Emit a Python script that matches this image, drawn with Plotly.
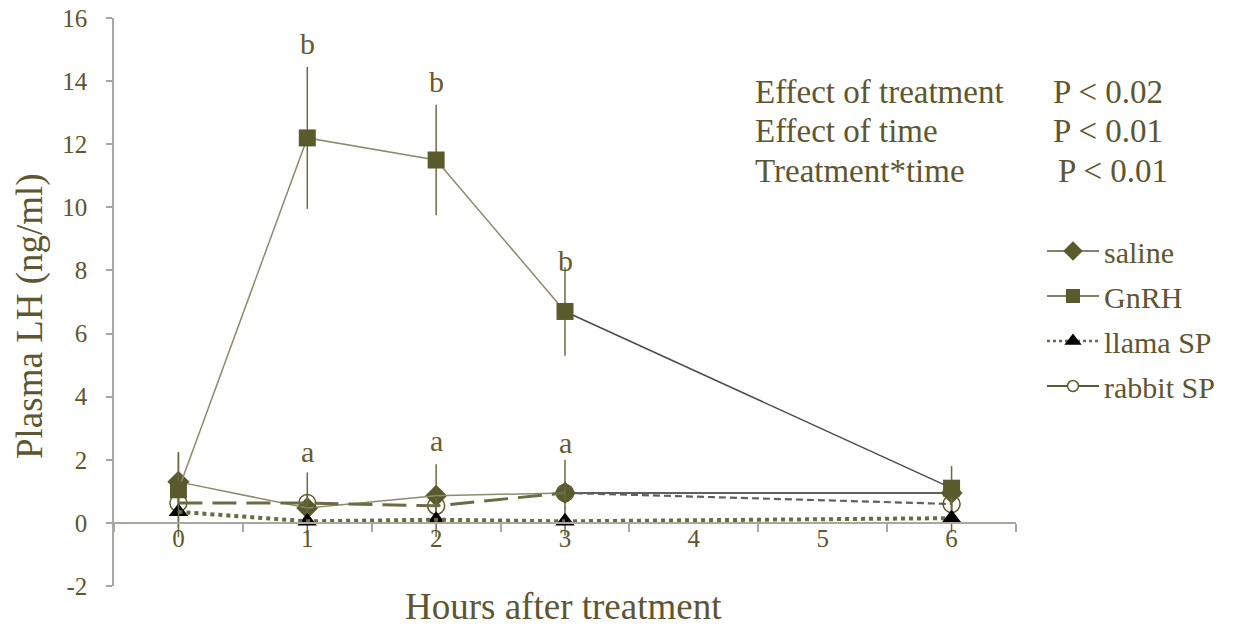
import plotly.graph_objects as go

hours = [0, 1, 2, 3, 6]
x_tick_vals = [0, 1, 2, 3, 4, 5, 6]
x_tick_text = ["0", "1", "2", "3", "4", "5", "6"]
y_tick_vals = [-2, 0, 2, 4, 6, 8, 10, 12, 14, 16]
y_tick_text = ["-2", "0", "2", "4", "6", "8", "10", "12", "14", "16"]

saline = [1.3, 0.47, 0.86, 0.95, 0.95]
saline_err_up = [0.9, 1.13, 1.0, 1.05, 0.0]
saline_err_dn = [0.9, 0.5, 0.5, 0.5, 0.0]

gnrh = [1.05, 12.2, 11.5, 6.7, 1.1]
gnrh_err = [1.2, 2.25, 1.75, 1.4, 0.7]

llama = [0.35, 0.05, 0.1, 0.05, 0.15]
llama_err = [0.8, 0.45, 0.55, 0.45, 0.45]

rabbit = [0.63, 0.63, 0.54, 0.95, 0.6]
rabbit_err = [0.3, 0.3, 0.3, 0.3, 0.3]

letters = ["b", "b", "b", "a", "a", "a"]
letter_x = [1, 2, 3, 1, 2, 3]
letter_y = [15.2, 14.0, 8.3, 2.25, 2.6, 2.55]

stats_labels = ["Effect of treatment", "Effect of time", "Treatment*time"]
stats_p = ["P < 0.02", "P < 0.01", "P < 0.01"]

FONT = "'Liberation Serif', 'Times New Roman', 'DejaVu Serif', serif"
TXT = "#5d5630"
OLIVE = "#5a5a2d"
AXIS = "#a8a8a0"

fig = go.Figure()

# segment 3 -> 6 lines (different styling, as in the reference)
fig.add_trace(go.Scatter(x=hours[3:], y=gnrh[3:], mode="lines",
                         line=dict(color="#4a4a45", width=1.5),
                         showlegend=False, hoverinfo="skip"))
fig.add_trace(go.Scatter(x=hours[3:], y=saline[3:], mode="lines",
                         line=dict(color="#2a2a25", width=1.5),
                         showlegend=False, hoverinfo="skip"))
fig.add_trace(go.Scatter(x=hours[3:], y=rabbit[3:], mode="lines",
                         line=dict(color="#606060", width=2.2, dash="7px,4px"),
                         showlegend=False, hoverinfo="skip"))
fig.add_trace(go.Scatter(x=hours[3:], y=llama[3:], mode="lines",
                         line=dict(color="#6b6b40", width=4, dash="dot"),
                         showlegend=False, hoverinfo="skip"))

fig.add_trace(go.Scatter(
    x=hours, y=saline, name="saline", mode="markers",
    marker=dict(symbol="diamond", size=17, color=OLIVE),
    error_y=dict(type="data", array=saline_err_up, arrayminus=saline_err_dn,
                 symmetric=False, color="#6b6b40", thickness=1.5, width=0),
    showlegend=False))
fig.add_trace(go.Scatter(x=hours[:4], y=saline[:4], mode="lines",
                         line=dict(color="#8c8c6c", width=1.5),
                         showlegend=False, hoverinfo="skip"))

fig.add_trace(go.Scatter(
    x=hours, y=rabbit, mode="markers",
    marker=dict(symbol="circle-open", size=17, color=OLIVE, line=dict(width=1.5)),
    error_y=dict(type="data", array=rabbit_err, color="#6b6b40", thickness=1.5, width=0),
    showlegend=False))
fig.add_trace(go.Scatter(x=hours[:4], y=rabbit[:4], mode="lines",
                         line=dict(color="#6b6b45", width=3, dash="24px,10px"),
                         showlegend=False, hoverinfo="skip"))

fig.add_trace(go.Scatter(
    x=hours, y=llama, mode="markers",
    marker=dict(symbol="triangle-up", size=17, color="black"),
    error_y=dict(type="data", array=llama_err, color="#6b6b40", thickness=1.5, width=0),
    showlegend=False))
fig.add_trace(go.Scatter(x=hours[:4], y=llama[:4], mode="lines",
                         line=dict(color="#6b6b40", width=4, dash="dot"),
                         showlegend=False, hoverinfo="skip"))

fig.add_trace(go.Scatter(x=hours[:4], y=gnrh[:4], mode="lines",
                         line=dict(color="#8c8c6c", width=1.5),
                         showlegend=False, hoverinfo="skip"))
fig.add_trace(go.Scatter(
    x=hours, y=gnrh, mode="markers",
    marker=dict(symbol="square", size=17, color=OLIVE),
    error_y=dict(type="data", array=gnrh_err, color="#6b6b40", thickness=1.5, width=0),
    showlegend=False))

legend_specs = [
    ("saline", dict(symbol="diamond", size=15, color=OLIVE), dict(color="#5a5a35", width=1.5)),
    ("GnRH", dict(symbol="square", size=14, color=OLIVE), dict(color="#5a5a35", width=1.5)),
    ("llama SP", dict(symbol="triangle-up", size=15, color="black"), dict(color="#6b6b40", width=2.5, dash="dot")),
    ("rabbit SP", dict(symbol="circle", size=11, color="white", line=dict(color=OLIVE, width=1.5)), dict(color="#5a5a35", width=2)),
]
for i, (nm, mk, ln) in enumerate(legend_specs):
    fig.add_trace(go.Scatter(x=[None], y=[None], name=nm, mode="lines+markers",
                             marker=mk, line=ln, legendgroup=f"g{i}", showlegend=True))

annotations = []
for t, xv, yv in zip(letters, letter_x, letter_y):
    annotations.append(dict(x=xv, y=yv, xref="x", yref="y", text=t, showarrow=False,
                            font=dict(family=FONT, size=30, color="#6a5a2c")))

L, R, T, B = 114, 1016, 18, 586
def px_x(p):
    return (p - L) / (R - L)
def px_y(p):
    return (B - p) / (B - T)

stat_y = [92, 131, 171]
p_x = [1051, 1051, 1056]
for lab, pv, yy, xx in zip(stats_labels, stats_p, stat_y, p_x):
    annotations.append(dict(x=px_x(753), y=px_y(yy), xref="paper", yref="paper", text=lab,
                            xanchor="left", yanchor="middle", showarrow=False,
                            font=dict(family=FONT, size=33, color=TXT)))
    annotations.append(dict(x=px_x(xx), y=px_y(yy), xref="paper", yref="paper", text=pv,
                            xanchor="left", yanchor="middle", showarrow=False,
                            font=dict(family=FONT, size=33, color=TXT)))

annotations.append(dict(x=px_x(563), y=px_y(606), xref="paper", yref="paper",
                        text="Hours after treatment", showarrow=False,
                        xanchor="center", yanchor="middle",
                        font=dict(family=FONT, size=37, color=TXT)))
annotations.append(dict(x=px_x(30), y=px_y(316), xref="paper", yref="paper",
                        text="Plasma LH (ng/ml)", showarrow=False, textangle=-90,
                        xanchor="center", yanchor="middle",
                        font=dict(family=FONT, size=37, color=TXT)))

fig.update_layout(
    width=1233, height=630,
    margin=dict(l=L, r=1233 - R, t=T, b=630 - B, autoexpand=False),
    paper_bgcolor="white", plot_bgcolor="white",
    font=dict(family=FONT, color=TXT),
    annotations=annotations,
    legend=dict(x=px_x(1042), y=px_y(225), xanchor="left", yanchor="top",
                font=dict(family=FONT, size=30, color=TXT),
                bgcolor="rgba(0,0,0,0)", tracegroupgap=3, itemwidth=52),
    xaxis=dict(range=[-0.5, 6.5], tickmode="array", tickvals=x_tick_vals, ticktext=x_tick_text,
               ticks="", showgrid=False, zeroline=False, showline=True, linecolor=AXIS,
               linewidth=1.5, anchor="free", position=2 / 18,
               tickfont=dict(family=FONT, size=25, color=TXT), ticklabelstandoff=-7,
               minor=dict(tickvals=[-0.5, 0.5, 1.5, 2.5, 3.5, 4.5, 5.5, 6.5],
                          ticks="outside", ticklen=8, tickcolor=AXIS, tickwidth=1.5)),
    yaxis=dict(range=[-2, 16], tickmode="array", tickvals=y_tick_vals, ticktext=y_tick_text,
               ticks="outside", ticklen=6, tickcolor=AXIS, tickwidth=1.5,
               showgrid=False, zeroline=False, showline=True, linecolor=AXIS, linewidth=1.5,
               tickfont=dict(family=FONT, size=25, color=TXT), ticklabelstandoff=14),
)

fig.write_html("out.html", config={"displayModeBar": False},
               post_script="document.body.style.margin='0';document.body.style.overflow='hidden';")
